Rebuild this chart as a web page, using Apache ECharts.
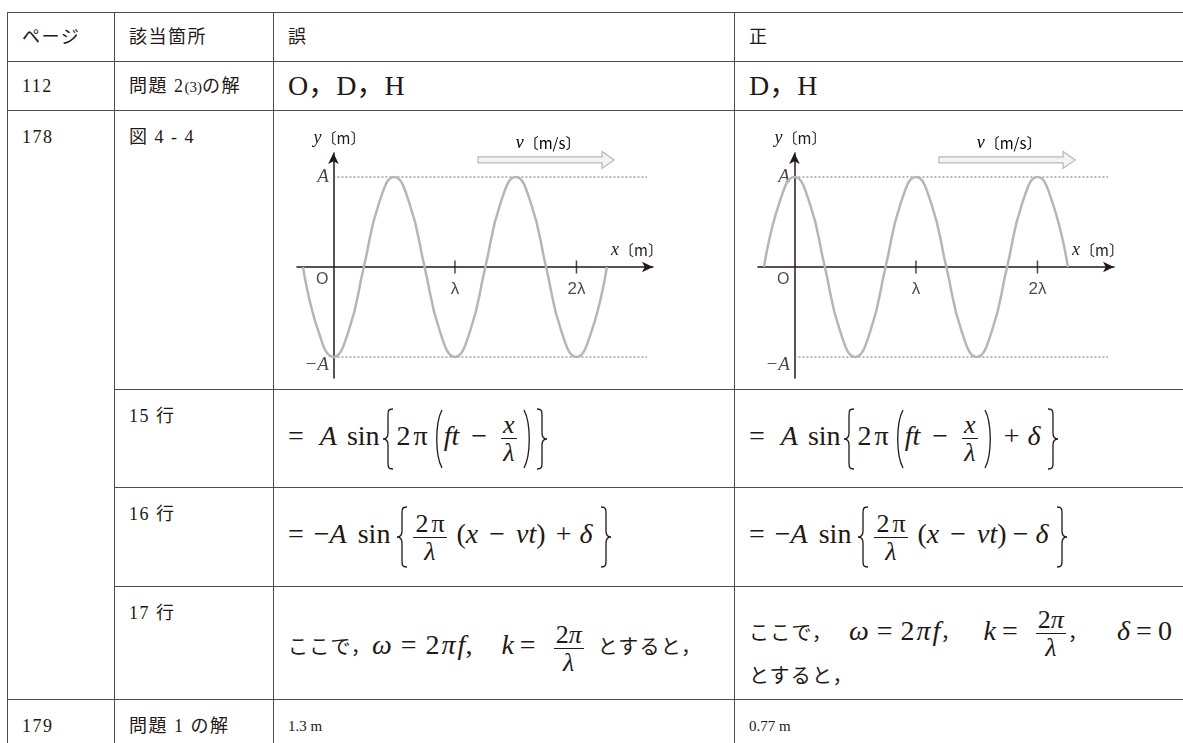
<!DOCTYPE html>
<html lang="ja">
<head>
<meta charset="utf-8">
<title>正誤表</title>
<script src="https://cdn.jsdelivr.net/npm/echarts@6.0.0/dist/echarts.min.js"></script>
<style>
html, body { margin: 0; padding: 0; background: #fff; }
body { width: 1183px; height: 743px; overflow: hidden; position: relative; }
table {
  position: absolute; left: 7px; top: 12px;
  border-collapse: collapse; table-layout: fixed; width: 1188px;
  font-family: "Liberation Serif", "Noto Sans CJK JP", serif;
  color: #231815; font-size: 18px; letter-spacing: 1.5px;
}
td {
  border: 1.5px solid #4d4d4d; padding: 0 0 0 14px;
  vertical-align: middle; line-height: 20px; white-space: nowrap; overflow: hidden;
}
td.top { vertical-align: top; padding-top: 16px; }
td.big { font-size: 28px; letter-spacing: 0; }
td.small { font-size: 15px; letter-spacing: 0; }
.sm { font-size: 15px; letter-spacing: 0; }
/* formulas */
.f { font-family: "Liberation Serif", "DejaVu Serif", serif; font-size: 28px; line-height: 30px; letter-spacing: 0; }
.f i { font-style: italic; }
.br, .pa { display: inline-block; vertical-align: middle; }
.br svg, .pa svg { display: block; }
.fr { display: inline-block; vertical-align: middle; text-align: center; margin: 0 2px; font-size: 26px; }
.fr > span { display: block; line-height: 27px; padding: 0 2px; }
.fr > span.nu { border-bottom: 1.3px solid #231815; }
.jp { font-family: "Noto Sans CJK JP", sans-serif; font-size: 20px; letter-spacing: 1.2px; }
.l1 { height: 46px; line-height: 46px; }
.l2 { height: 44px; line-height: 44px; }
.chart { position: absolute; top: 111px; height: 277px; }
#wrongChart { left: 274px; width: 459px; }
#rightChart { left: 735px; width: 448px; }
</style>
</head>
<body>
<table>
  <colgroup>
    <col style="width:107px"><col style="width:159px"><col style="width:461px"><col style="width:461px">
  </colgroup>
  <tr style="height:49px">
    <td>ページ</td><td>該当箇所</td><td>誤</td><td>正</td>
  </tr>
  <tr style="height:49px">
    <td>112</td><td>問題 2<span class="sm">(3)</span>の解</td>
    <td class="big">O，D，H</td><td class="big">D，H</td>
  </tr>
  <tr style="height:279px">
    <td class="top" rowspan="4">178</td><td class="top">図 4 - 4</td><td></td><td></td>
  </tr>
  <tr style="height:98px">
    <td class="top">15 行</td>
    <td><span class="f">=<i style="margin-left:16px">A</i><span style="margin-left:10px">sin</span><span class="br l" style="margin-left:2px"></span><span style="margin-left:3px">2</span><span style="margin-left:3px">π</span><span class="pa l" style="margin-left:5px"></span><i>ft</i><span style="margin:0 12px">−</span><span class="fr"><span class="nu"><i>x</i></span><span><i>λ</i></span></span><span class="pa r" style="margin-left:3px"></span><span class="br r" style="margin-left:3px"></span></span></td>
    <td><span class="f">=<i style="margin-left:16px">A</i><span style="margin-left:10px">sin</span><span class="br l" style="margin-left:2px"></span><span style="margin-left:3px">2</span><span style="margin-left:3px">π</span><span class="pa l" style="margin-left:5px"></span><i>ft</i><span style="margin:0 12px">−</span><span class="fr"><span class="nu"><i>x</i></span><span><i>λ</i></span></span><span class="pa r" style="margin-left:3px"></span><span style="margin-left:10px">+</span><i style="margin-left:8px">δ</i><span class="br r" style="margin-left:7px"></span></span></td>
  </tr>
  <tr style="height:99px">
    <td class="top">16 行</td>
    <td><span class="f">=<span style="margin-left:10px">−</span><i>A</i><span style="margin-left:11px">sin</span><span class="br l" style="margin-left:6px"></span><span class="fr" style="margin-left:5px"><span class="nu">2<span style="margin-left:3px">π</span></span><span><i>λ</i></span></span><span style="margin-left:8px">(</span><i>x</i><span style="margin:0 11px">−</span><i>vt</i>)<span style="margin-left:10px">+</span><i style="margin-left:8px">δ</i><span class="br r" style="margin-left:8px"></span></span></td>
    <td><span class="f">=<span style="margin-left:10px">−</span><i>A</i><span style="margin-left:11px">sin</span><span class="br l" style="margin-left:6px"></span><span class="fr" style="margin-left:5px"><span class="nu">2<span style="margin-left:3px">π</span></span><span><i>λ</i></span></span><span style="margin-left:8px">(</span><i>x</i><span style="margin:0 11px">−</span><i>vt</i>)<span style="margin-left:6px">−</span><i style="margin-left:7px">δ</i><span class="br r" style="margin-left:8px"></span></span></td>
  </tr>
  <tr style="height:113px">
    <td class="top">17 行</td>
    <td style="padding-top:10px"><span class="f"><span class="jp">ここで，</span><i>ω</i><span style="margin:0 9px">=</span>2<i style="margin-left:2px">π</i><i style="margin-left:2px">f</i>,<i style="margin-left:29px">k</i><span style="margin:0 16px 0 6px">=</span><span class="fr"><span class="nu">2<i>π</i></span><span><i>λ</i></span></span><span class="jp" style="margin-left:12px">とすると，</span></span></td>
    <td style="vertical-align:top;padding-top:19px">
      <div class="f l1"><span class="jp">ここで，</span><i style="margin-left:16px">ω</i><span style="margin:0 8px">=</span>2<i style="margin-left:2px">π</i><i style="margin-left:2px">f</i><span class="jp">，</span><i style="margin-left:22px">k</i><span style="margin:0 16px 0 6px">=</span><span class="fr"><span class="nu">2<i>π</i></span><span><i>λ</i></span></span><span class="jp">，</span><i style="margin-left:28px">δ</i><span style="margin:0 6px">=</span>0</div>
      <div class="f l2"><span class="jp">とすると，</span></div>
    </td>
  </tr>
  <tr style="height:60px">
    <td class="top">179</td><td class="top">問題 1 の解</td>
    <td class="top small">1.3 m</td><td class="top small">0.77 m</td>
  </tr>
</table>

<div id="wrongChart" class="chart"></div>
<div id="rightChart" class="chart"></div>

<script>
// wave samples every λ/8 (x in units of λ, y in units of A)
var waveX = [-0.25, -0.125, 0, 0.125, 0.25, 0.375, 0.5, 0.625, 0.75, 0.875, 1,
             1.125, 1.25, 1.375, 1.5, 1.625, 1.75, 1.875, 2, 2.125, 2.25];
var wrongY = [0, -0.71, -1, -0.71, 0, 0.71, 1, 0.71, 0, -0.71, -1,
              -0.71, 0, 0.71, 1, 0.71, 0, -0.71, -1, -0.71, 0];
var rightY = [0, 0.71, 1, 0.71, 0, -0.71, -1, -0.71, 0, 0.71, 1,
              0.71, 0, -0.71, -1, -0.71, 0, 0.71, 1, 0.71, 0];
var tickX = [1, 2];
var tickLabels = ["λ", "2λ"];
var ampY = [1, -1];
var ampLabels = ["A", "−A"];
var refLineEnd = 2.58;
var velArrowX = [1.19, 2.31];
var velArrowY = 1.19;

var ink = "#231815";
var serif = '"Liberation Serif", serif';
var sans = '"Liberation Sans", "Noto Sans", sans-serif';
var cjk = '"Noto Sans CJK JP", sans-serif';

// thin tall braces / parentheses for the formulas
var glyphs = {
  "br l": '<svg width="12" height="62"><path d="M11,1 C6,1 6,3 6,8 L6,25 C6,29 4,31 1,31 C4,31 6,33 6,37 L6,54 C6,59 6,61 11,61" fill="none" stroke="#231815" stroke-width="1.3"/></svg>',
  "br r": '<svg width="12" height="62"><path d="M1,1 C6,1 6,3 6,8 L6,25 C6,29 8,31 11,31 C8,31 6,33 6,37 L6,54 C6,59 6,61 1,61" fill="none" stroke="#231815" stroke-width="1.3"/></svg>',
  "pa l": '<svg width="11" height="60"><path d="M9,1 C2,14 2,46 9,59" fill="none" stroke="#231815" stroke-width="1.3"/></svg>',
  "pa r": '<svg width="11" height="60"><path d="M2,1 C9,14 9,46 2,59" fill="none" stroke="#231815" stroke-width="1.3"/></svg>'
};
Object.keys(glyphs).forEach(function (k) {
  var els = document.getElementsByClassName(k);
  for (var i = 0; i < els.length; i++) els[i].innerHTML = glyphs[k];
});

function unitName(v, u) {
  return {
    text: "{i|" + v + "}{u|〔" + u + "〕}",
    rich: {
      i: { fontFamily: serif, fontStyle: "italic", fontSize: 18, color: ink },
      u: { fontFamily: cjk, fontSize: 15, color: ink }
    }
  };
}

function drawWave(id, ys) {
  var myChart = echarts.init(document.getElementById(id));
  var wave = waveX.map(function (x, i) { return [x, ys[i]]; });
  var series = [];
  ampY.forEach(function (a) {
    series.push({
      type: "line", data: [[0, a], [refLineEnd, a]], symbol: "none", silent: true,
      lineStyle: { color: "#707070", width: 1, type: [2, 2] }
    });
  });
  series.push({
    type: "line", data: wave, smooth: 0.5, symbol: "none", silent: true,
    lineStyle: { color: "#b6b6b6", width: 2.5 }
  });
  // λ ticks
  series.push({
    type: "scatter", data: tickX.map(function (x) { return [x, 0]; }),
    symbol: "rect", symbolSize: [1.5, 13], silent: true,
    itemStyle: { color: ink },
    label: {
      show: true, position: "bottom", distance: 7, color: ink, fontFamily: sans, fontSize: 17,
      formatter: function (p) { return tickLabels[p.dataIndex]; }
    }
  });
  // A, -A
  series.push({
    type: "scatter", symbolSize: 1, silent: true, itemStyle: { color: "transparent" },
    data: ampY.map(function (a, i) {
      return {
        value: [0, a],
        label: {
          show: true, position: "left", distance: 4, offset: [0, a < 0 ? 8 : 0],
          formatter: ampLabels[i], color: ink, fontFamily: serif, fontStyle: "italic", fontSize: 19
        }
      };
    })
  });
  // origin
  series.push({
    type: "scatter", symbolSize: 1, silent: true, itemStyle: { color: "transparent" },
    data: [[0, 0]],
    label: { show: true, position: [-17, 5], formatter: "O", color: ink, fontFamily: sans, fontSize: 16 }
  });

  var xn = unitName("x", "m");
  var yn = unitName("y", "m");
  var option = {
    animation: false,
    grid: { left: 23, top: 42, width: 356, height: 225 },
    xAxis: {
      type: "value", min: -0.3, max: 2.63,
      splitLine: { show: false }, axisTick: { show: false }, axisLabel: { show: false },
      axisLine: { onZero: true, symbol: ["none", "arrow"], symbolSize: [8, 11],
        lineStyle: { color: ink, width: 1.5 } },
      name: xn.text, nameLocation: "end", nameGap: 10,
      nameTextStyle: { align: "right", verticalAlign: "bottom", padding: [0, 0, 8, 0], rich: xn.rich }
    },
    yAxis: {
      type: "value", min: -1.2333, max: 1.2667,
      splitLine: { show: false }, axisTick: { show: false }, axisLabel: { show: false },
      axisLine: { onZero: true, symbol: ["none", "arrow"], symbolSize: [8, 11],
        lineStyle: { color: ink, width: 1.5 } },
      name: yn.text, nameLocation: "end", nameGap: 6,
      nameTextStyle: { align: "center", verticalAlign: "bottom", padding: [0, 0, 0, 12], rich: yn.rich }
    },
    series: series
  };
  myChart.setOption(option);

  // velocity arrow (hollow) above the wave
  var p0 = myChart.convertToPixel({ gridIndex: 0 }, [velArrowX[0], velArrowY]);
  var p1 = myChart.convertToPixel({ gridIndex: 0 }, [velArrowX[1], velArrowY]);
  var x0 = p0[0], x1 = p1[0], cy = p0[1], hx = x1 - 12;
  var vn = unitName("v", "m/s");
  myChart.setOption({
    graphic: [
      {
        type: "polygon", silent: true,
        shape: { points: [[x0, cy - 3], [hx, cy - 3], [hx, cy - 8.5], [x1, cy], [hx, cy + 8.5], [hx, cy + 3], [x0, cy + 3]] },
        style: { fill: "#f3f3f3", stroke: "#b8b8b8", lineWidth: 1.2 }
      },
      {
        type: "text", silent: true,
        style: { text: vn.text, rich: vn.rich, x: (x0 + x1) / 2 + 2, y: cy - 17, align: "center", verticalAlign: "middle" }
      }
    ]
  });
}

drawWave("wrongChart", wrongY);
drawWave("rightChart", rightY);
</script>
</body>
</html>
